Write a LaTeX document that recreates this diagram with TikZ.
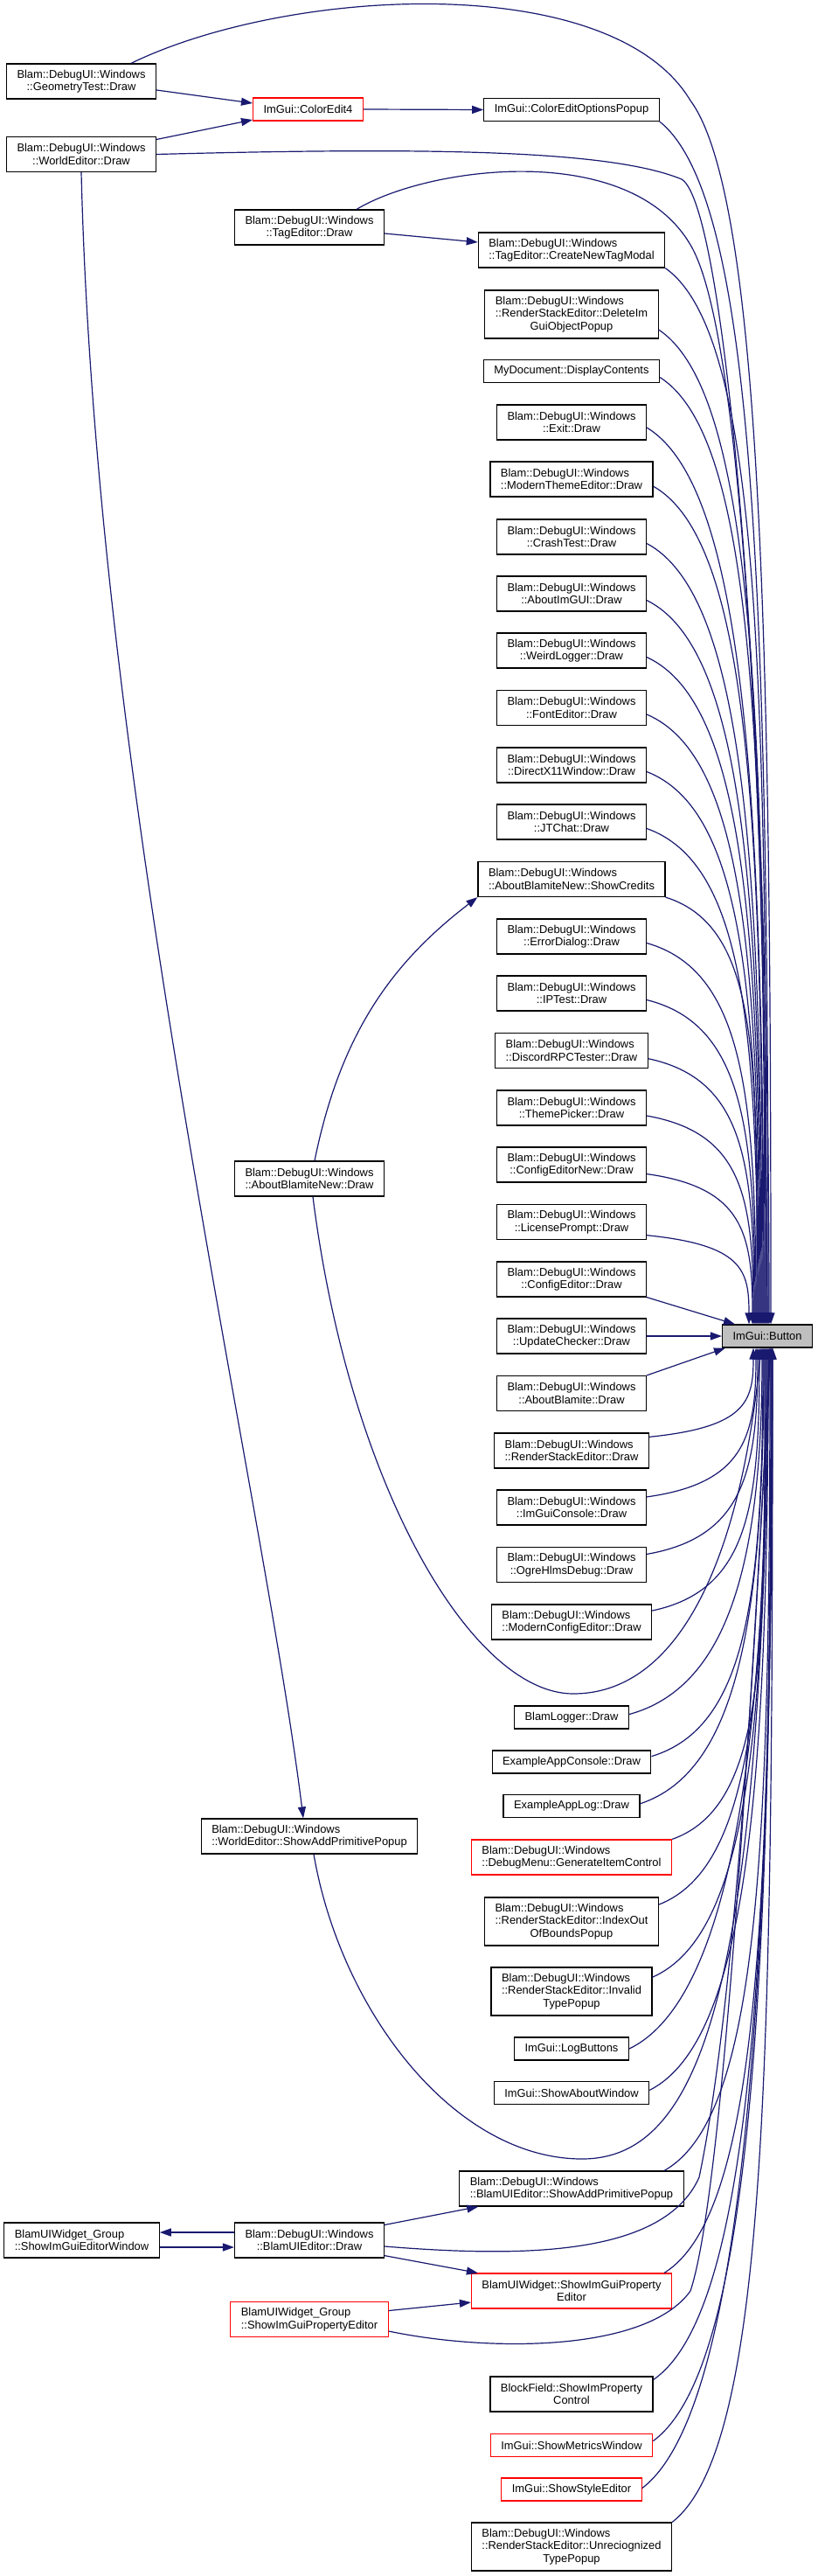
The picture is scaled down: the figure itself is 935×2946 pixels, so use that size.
\documentclass[tikz,border=0pt]{standalone}
\usepackage{fontspec}
\setmainfont{Liberation Sans}
\usepackage{tikz}
\usetikzlibrary{arrows.meta}
\definecolor{EdgeBlue}{RGB}{25,25,112}
\definecolor{RootGray}{RGB}{191,191,191}
\newcommand{\midln}{\null\hfil}

\begin{document}
\begin{tikzpicture}[x=1pt, y=1pt,
                % Style for an ordinary function box
                funcnode/.style={
                    draw=black, line width=1.2pt,
                    font=\fontsize{12.9}{14.6}\selectfont,
                    align=left, inner xsep=12pt, inner ysep=0pt,
                    minimum height=26pt
                },
                % Box heights for one, two or three lines
                line1/.style={},
                line2/.style={minimum height=40pt},
                line3/.style={minimum height=55pt},
                redline1/.style={draw=red},
                redline2/.style={draw=red, minimum height=40pt},
                % Style for the called function
                rootnode/.style={funcnode, fill=RootGray},
                % Style for a call edge
                callarrow/.style={
                    draw=EdgeBlue, line width=1.2pt,
                    -{Triangle[length=13pt, width=9pt]}
                }
            ]
                \useasboundingbox (0,0) rectangle (935,-2946);

                % --- 1. The called function ---
                \node[rootnode] (Btn) at (878,-1528) {ImGui::Button};

                % --- 2. Callers on the left and in the middle ---
                \node[funcnode,line2] (GT) at (93,-93) {Blam::DebugUI::Windows\\\midln ::GeometryTest::Draw};
                \node[funcnode,line2] (WED) at (93,-176.5) {Blam::DebugUI::Windows\\\midln ::WorldEditor::Draw};
                \node[funcnode,redline1] (CE4) at (352.5,-125) {ImGui::ColorEdit4};
                \node[funcnode,line2] (TED) at (354,-260) {Blam::DebugUI::Windows\\\midln ::TagEditor::Draw};
                \node[funcnode,line2] (ABN) at (354,-1348) {Blam::DebugUI::Windows\\\midln ::AboutBlamiteNew::Draw};
                \node[funcnode,line2] (WESAPP) at (354,-2100) {Blam::DebugUI::Windows\\\midln ::WorldEditor::ShowAddPrimitivePopup};
                \node[funcnode,line2] (SEW) at (93.5,-2562) {BlamUIWidget\_Group\\\midln ::ShowImGuiEditorWindow};
                \node[funcnode,line2] (BUE) at (354,-2562) {Blam::DebugUI::Windows\\\midln ::BlamUIEditor::Draw};
                \node[funcnode,redline2] (BGPE) at (354,-2652.5) {BlamUIWidget\_Group\\\midln ::ShowImGuiPropertyEditor};

                % --- 3. Right column of callers ---
                \foreach \n/\y/\s/\txt in {
                    CEOP/125.5/line1/ImGui::ColorEditOptionsPopup,
                    CNT/286/line2/Blam::DebugUI::Windows\\\midln ::TagEditor::CreateNewTagModal,
                    DEL/359.5/line3/Blam::DebugUI::Windows\\::RenderStackEditor::DeleteIm\\\midln GuiObjectPopup,
                    MYD/424.5/line1/MyDocument::DisplayContents,
                    EXT/483/line2/Blam::DebugUI::Windows\\\midln ::Exit::Draw,
                    MTE/548/line2/Blam::DebugUI::Windows\\\midln ::ModernThemeEditor::Draw,
                    CRT/614/line2/Blam::DebugUI::Windows\\\midln ::CrashTest::Draw,
                    AIG/679/line2/Blam::DebugUI::Windows\\\midln ::AboutImGUI::Draw,
                    WLG/744/line2/Blam::DebugUI::Windows\\\midln ::WeirdLogger::Draw,
                    FED/809.5/line2/Blam::DebugUI::Windows\\\midln ::FontEditor::Draw,
                    DXW/875/line2/Blam::DebugUI::Windows\\\midln ::DirectX11Window::Draw,
                    JTC/940/line2/Blam::DebugUI::Windows\\\midln ::JTChat::Draw,
                    SCR/1005.5/line2/Blam::DebugUI::Windows\\\midln ::AboutBlamiteNew::ShowCredits,
                    ERD/1071/line2/Blam::DebugUI::Windows\\\midln ::ErrorDialog::Draw,
                    IPT/1136/line2/Blam::DebugUI::Windows\\\midln ::IPTest::Draw,
                    DRT/1201.5/line2/Blam::DebugUI::Windows\\\midln ::DiscordRPCTester::Draw,
                    THP/1267/line2/Blam::DebugUI::Windows\\\midln ::ThemePicker::Draw,
                    CEN/1332/line2/Blam::DebugUI::Windows\\\midln ::ConfigEditorNew::Draw,
                    LCP/1397.5/line2/Blam::DebugUI::Windows\\\midln ::LicensePrompt::Draw,
                    CFE/1463/line2/Blam::DebugUI::Windows\\\midln ::ConfigEditor::Draw,
                    UPC/1528/line2/Blam::DebugUI::Windows\\\midln ::UpdateChecker::Draw,
                    ABL/1593.5/line2/Blam::DebugUI::Windows\\\midln ::AboutBlamite::Draw,
                    RSE/1659/line2/Blam::DebugUI::Windows\\\midln ::RenderStackEditor::Draw,
                    IGC/1724/line2/Blam::DebugUI::Windows\\\midln ::ImGuiConsole::Draw,
                    OHD/1789.5/line2/Blam::DebugUI::Windows\\\midln ::OgreHlmsDebug::Draw,
                    MCE/1855/line2/Blam::DebugUI::Windows\\\midln ::ModernConfigEditor::Draw,
                    BLG/1964/line1/BlamLogger::Draw,
                    EAC/2015/line1/ExampleAppConsole::Draw,
                    EAL/2065.5/line1/ExampleAppLog::Draw,
                    DMG/2124/redline2/Blam::DebugUI::Windows\\\midln ::DebugMenu::GenerateItemControl,
                    IOB/2197.5/line3/Blam::DebugUI::Windows\\::RenderStackEditor::IndexOut\\\midln OfBoundsPopup,
                    ITP/2277.5/line3/Blam::DebugUI::Windows\\::RenderStackEditor::Invalid\\\midln TypePopup,
                    LGB/2343/line1/ImGui::LogButtons,
                    SAW/2393.5/line1/ImGui::ShowAboutWindow,
                    BSAP/2503/line2/Blam::DebugUI::Windows\\\midln ::BlamUIEditor::ShowAddPrimitivePopup,
                    BWPE/2620/redline2/BlamUIWidget::ShowImGuiProperty\\\midln Editor,
                    BFC/2738/line2/BlockField::ShowImProperty\\\midln Control,
                    SMW/2796.5/redline1/ImGui::ShowMetricsWindow,
                    SSE/2847/redline1/ImGui::ShowStyleEditor,
                    URT/2912.5/line3/Blam::DebugUI::Windows\\::RenderStackEditor::Unreciognized\\\midln TypePopup
                } {
                    \node[funcnode,\s] (\n) at (654,-\y) {\txt};
                }

                % --- 4. Calls that do not reach ImGui::Button directly ---
                \draw[callarrow] ([yshift=-10pt]GT.east) -- ([yshift=7pt]CE4.west);
                \draw[callarrow] ([yshift=17pt]WED.east) -- ([yshift=-12pt]CE4.west);
                \draw[callarrow] (CE4.east) -- (CEOP.west);
                \draw[callarrow] ([yshift=-7pt]TED.east) -- ([yshift=9pt]CNT.west);
                \draw[callarrow] (WED.south) .. controls (110,-900) and (300,-1700) .. ([xshift=-7pt]WESAPP.north);
                \draw[callarrow] ([xshift=6pt]ABN.north) .. controls (390,-1180) and (450,-1100) .. (SCR.south west);
                \draw[callarrow] ([yshift=9pt]BUE.west) -- ([yshift=9pt]SEW.east);
                \draw[callarrow] ([yshift=-8pt]SEW.east) -- ([yshift=-8pt]BUE.west);
                \draw[callarrow] ([yshift=-3pt]BUE.north east) -- ([xshift=22pt]BSAP.south west);
                \draw[callarrow] ([yshift=3pt]BUE.south east) -- ([xshift=8pt]BWPE.north west);
                \draw[callarrow] ([yshift=10pt]BGPE.east) -- ([yshift=-13pt]BWPE.west);

                % --- 5. Calls into ImGui::Button from above ---
                \draw[callarrow] ([xshift=57pt]GT.north) .. controls (330,15) and (700,35) .. (790,-115)
                    .. controls (875,-230) and (882,-800) .. ([xshift=4pt]Btn.north);
                \draw[callarrow] (WED.east) .. controls (500,-168) and (700,-172) .. (780,-205)
                    .. controls (830,-235) and (880,-800) .. ([xshift=2pt]Btn.north);
                \draw[callarrow] ([xshift=54pt]TED.north) .. controls (490,-190) and (720,-160) .. (790,-280)
                    .. controls (850,-380) and (876,-900) .. (Btn.north);
                \foreach \n/\anc/\s/\y in {
                    CEOP/south east/1/138, CNT/south east/-1/306, DEL/-10/-2/377,
                    MYD/-4/-3/432, EXT/-4/-4/489, MTE/-5/-5/557, CRT/-5/-6/621,
                    AIG/-5/-7/686, WLG/-5/-8/751, FED/-5/-9/817, DXW/-5/-10/882,
                    JTC/-5/-11/947, SCR/south east/-12/1025, ERD/-5/-13/1078,
                    IPT/-5/-14/1143, DRT/-6/-15/1210, THP/-6/-16/1276,
                    CEN/-7/-17/1342, LCP/-10/-21/1413
                } {
                    \pgfmathsetmacro{\dd}{0.6*(1516-\y)}
                    \pgfmathsetmacro{\bb}{0.06*(1516-\y)+5}
                    \draw[callarrow] (\n.\anc) .. controls +(110,-\bb) and +(0,\dd) .. ([xshift=\s pt]Btn.north);
                }
                \draw[callarrow] (CFE.south east) -- ([xshift=-37pt]Btn.north);
                \draw[callarrow] (UPC.east) -- (Btn.west);

                % --- 6. Calls into ImGui::Button from below ---
                \draw[callarrow] (ABL.north east) -- ([xshift=4pt]Btn.south west);
                \foreach \n/\anc/\s/\y in {
                    RSE/10/-16/1643, IGC/8/-13/1712, OHD/8/-11/1777, MCE/8/-9/1843,
                    BLG/3/-6/1961, EAC/4/-5/2008, EAL/2/-4/2063, DMG/north east/-3/2104,
                    IOB/11/-2/2178, ITP/10/-1/2262, LGB/0/0/2343, SAW/2/1/2390,
                    BSAP/11/3/2483, BWPE/11/4/2600, BFC/10/5/2721, SMW/3/5/2791,
                    SSE/1/6/2846, URT/north east/6/2885
                } {
                    \pgfmathsetmacro{\dd}{0.6*(\y-1540)}
                    \pgfmathsetmacro{\bb}{0.06*(\y-1540)+5}
                    \draw[callarrow] (\n.\anc) .. controls +(110,\bb) and +(0,-\dd) .. ([xshift=\s pt]Btn.south);
                }
                \draw[callarrow] ([xshift=4pt]ABN.south) .. controls (400,-1700) and (540,-1937) .. (656,-1937)
                    .. controls (770,-1937) and (845,-1800) .. ([xshift=-7pt]Btn.south);
                \draw[callarrow] ([xshift=5pt]WESAPP.south) .. controls (390,-2300) and (520,-2469) .. (666,-2469)
                    .. controls (810,-2469) and (872,-2250) .. ([xshift=2pt]Btn.south);
                \draw[callarrow] ([yshift=-7pt]BUE.east) .. controls (600,-2582) and (760,-2580) .. (800,-2490)
                    .. controls (840,-2300) and (864,-1900) .. ([xshift=3pt]Btn.south);
                \draw[callarrow] ([yshift=-13.5pt]BGPE.east) .. controls (560,-2690) and (740,-2690) .. (790,-2620)
                    .. controls (830,-2500) and (862,-1900) .. ([xshift=4pt]Btn.south);

            \end{tikzpicture}
\end{document}
